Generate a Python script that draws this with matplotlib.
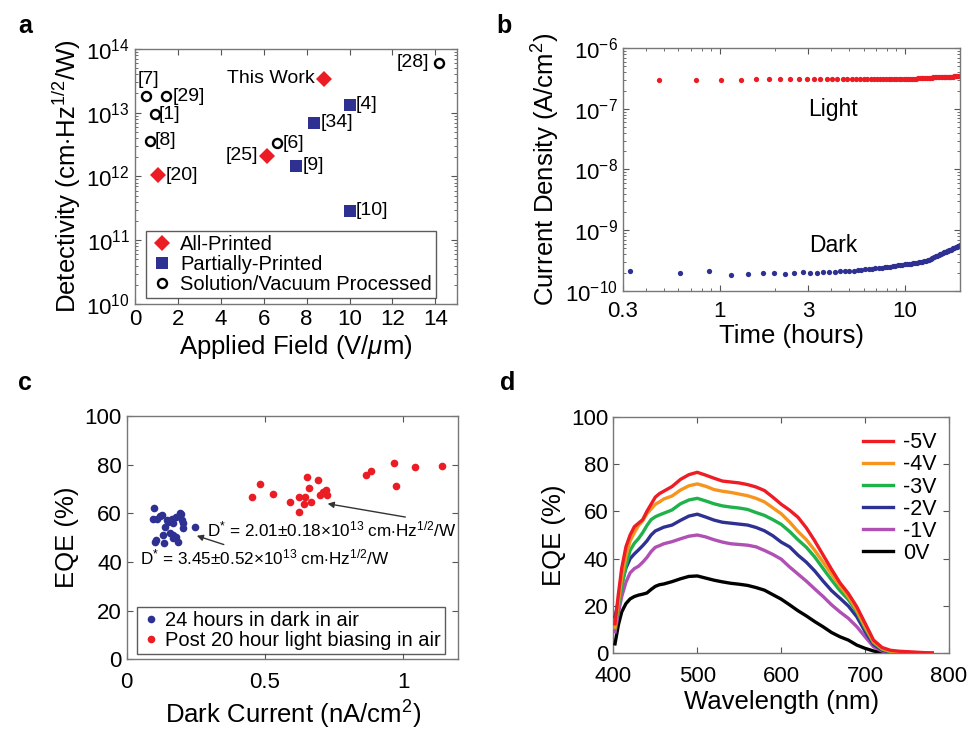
import numpy as np
import matplotlib
matplotlib.use("Agg")
import matplotlib.pyplot as plt
from matplotlib.ticker import LogLocator, NullFormatter

plt.rcParams['font.family'] = ['Liberation Sans', 'DejaVu Sans']
plt.rcParams['mathtext.fontset'] = 'custom'
plt.rcParams['mathtext.rm'] = 'Liberation Sans'
plt.rcParams['mathtext.it'] = 'Liberation Sans:italic'
plt.rcParams['axes.unicode_minus'] = False

RED = '#ec1c24'
BLUE = '#2e3192'

# ---- panel a: detectivity vs applied field ----
all_printed_x = [1.1, 6.17, 8.79]
all_printed_y = [1.05e12, 2.1e12, 3.4e13]
all_printed_lbl = ['[20]', '[25]', 'This Work']
partial_x = [10.0, 8.35, 7.52, 10.0]
partial_y = [1.33e13, 7.0e12, 1.46e12, 2.9e11]
partial_lbl = ['[4]', '[34]', '[9]', '[10]']
solution_x = [0.51, 1.44, 0.94, 0.70, 6.63, 14.15]
solution_y = [1.8e13, 1.8e13, 9.5e12, 3.6e12, 3.3e12, 6.0e13]
solution_lbl = ['[7]', '[29]', '[1]', '[8]', '[6]', '[28]']

# ---- panel b: current density vs time ----
light_t = [0.47, 0.75, 1.02, 1.30, 1.58, 1.85, 2.12, 2.40, 2.68, 2.96, 3.23, 3.51,
           3.79, 4.06, 4.34, 4.62, 4.89, 5.17, 5.45, 5.72, 6.00, 6.28, 6.55, 6.83,
           7.11, 7.38, 7.66, 7.94, 8.21, 8.49, 8.77, 9.04, 9.32, 9.60, 9.87, 10.15,
           10.43, 10.70, 10.98, 11.26, 11.53, 11.81, 12.09, 12.36, 12.64, 12.92, 13.19,
           13.47, 13.75, 14.02, 14.30, 14.58, 14.85, 15.13, 15.41, 15.68, 15.96, 16.24,
           16.51, 16.79, 17.07, 17.34, 17.62, 17.90, 18.17, 18.45, 18.73, 19.00, 19.28,
           19.56, 19.83]
light_j = [3.02, 3.00, 3.00, 3.00, 3.05, 3.05, 3.05, 3.05, 3.05, 3.05, 3.05, 3.05,
           3.06, 3.06, 3.07, 3.07, 3.08, 3.08, 3.08, 3.08, 3.09, 3.09, 3.10, 3.10,
           3.10, 3.10, 3.11, 3.11, 3.12, 3.12, 3.12, 3.12, 3.13, 3.13, 3.13, 3.14,
           3.14, 3.14, 3.15, 3.15, 3.15, 3.16, 3.16, 3.16, 3.17, 3.17, 3.17, 3.18,
           3.18, 3.20, 3.30, 3.33, 3.34, 3.35, 3.35, 3.36, 3.36, 3.37, 3.37, 3.38,
           3.38, 3.39, 3.39, 3.40, 3.40, 3.41, 3.42, 3.42, 3.43, 3.44, 3.45]
dark_t = [0.33, 0.61, 0.88, 1.16, 1.43, 1.71, 1.98, 2.26, 2.54, 2.81, 3.09, 3.36,
          3.64, 3.92, 4.19, 4.47, 4.75, 5.02, 5.30, 5.58, 5.85, 6.13, 6.41, 6.68,
          6.96, 7.24, 7.51, 7.79, 8.07, 8.34, 8.62, 8.90, 9.17, 9.45, 9.73, 10.00,
          10.28, 10.56, 10.83, 11.11, 11.39, 11.66, 11.94, 12.22, 12.49, 12.77, 13.05,
          13.32, 13.60, 13.88, 14.15, 14.43, 14.71, 14.98, 15.26, 15.54, 15.81, 16.09,
          16.37, 16.64, 16.92, 17.20, 17.47, 17.75, 18.03, 18.30, 18.58, 18.86, 19.13,
          19.41, 19.69, 19.96]
dark_j = [2.10, 1.95, 2.10, 1.85, 1.90, 1.95, 1.95, 1.88, 2.00, 2.03, 2.00, 2.00,
          2.05, 2.03, 2.08, 2.10, 2.10, 2.12, 2.15, 2.18, 2.20, 2.25, 2.30, 2.32,
          2.35, 2.38, 2.42, 2.45, 2.48, 2.50, 2.55, 2.58, 2.62, 2.65, 2.70, 2.72,
          2.75, 2.78, 2.80, 2.85, 2.88, 2.92, 2.95, 2.98, 3.02, 3.05, 3.10,
          3.18, 3.28, 3.38, 3.48, 3.60, 3.70, 3.80, 3.90, 4.00, 4.10, 4.20,
          4.30, 4.40, 4.50, 4.60, 4.70, 4.80, 4.90, 5.00, 5.10, 5.20, 5.30,
          5.40, 5.50, 5.60]

# ---- panel c: EQE vs dark current ----
dark_air_x = [0.099, 0.094, 0.126, 0.196, 0.202, 0.202, 0.247, 0.102, 0.136, 0.184,
              0.166, 0.108, 0.145, 0.163, 0.168, 0.193, 0.199, 0.138, 0.106, 0.168,
              0.180, 0.156, 0.130, 0.120, 0.178, 0.150]
dark_air_y = [62.3, 57.5, 59.3, 59.7, 56.1, 53.8, 54.5, 48.3, 47.7, 48.1,
              51.1, 57.6, 57.2, 57.6, 55.9, 60.0, 57.2, 54.2, 49.0, 49.7,
              50.4, 52.0, 51.1, 58.9, 58.4, 56.5]
light_air_x = [0.452, 0.482, 0.530, 0.590, 0.624, 0.624, 0.641, 0.653, 0.660, 0.666,
               0.644, 0.692, 0.698, 0.710, 0.723, 0.720, 0.867, 0.883, 0.967, 0.976,
               1.042, 1.142]
light_air_y = [66.8, 72.1, 67.8, 64.8, 66.8, 60.4, 63.8, 74.8, 70.5, 64.8,
               66.6, 73.7, 67.5, 68.9, 67.5, 69.6, 75.5, 77.4, 80.6, 71.0,
               79.0, 79.5]

# ---- panel d: EQE spectra ----
wavelength = [402, 406, 410, 415, 420, 425, 430, 435, 440, 445, 450, 455, 460, 470, 480,
              490, 500, 510, 520, 530, 540, 550, 560, 570, 580, 590, 600, 610, 620, 630,
              640, 650, 660, 670, 680, 690, 700, 710, 720, 730, 740, 750, 760, 770, 780]
eqe_5v = [12.5, 25, 36, 45, 50, 53.5, 55, 56.5, 60, 63, 66, 67.5, 68.5, 70.5, 73.5,
          75.5, 76.5, 75.3, 74, 72.8, 72.4, 72, 71.3, 70.3, 68.8, 66, 63, 60.5, 57.5, 53,
          47.5, 41.5, 35.5, 29.8, 25.3, 19.7, 12.7, 5.6, 2.5, 1.3, 0.9, 0.7, 0.5, 0.3, 0.1]
eqe_4v = [11, 22, 32, 41, 47.5, 51, 54, 56, 59, 61, 63, 64, 65.2, 66.5, 69,
          70.8, 71.6, 70.6, 69.2, 68.5, 68, 67.3, 66.6, 65.5, 64, 61.5, 59, 55.5, 51.5, 48,
          43.5, 38.5, 33.5, 28.5, 24, 18.3, 11.3, 4.9, 2, 0.9, 0.5, 0.3, 0.2, 0.1, 0.05]
eqe_3v = [10.5, 20, 28, 37, 43.5, 46.5, 48.5, 51, 54, 56.5, 57.7, 58.5, 59.2, 60.6, 63.2,
          64.8, 65.5, 64.4, 63.2, 62.3, 61.8, 61.4, 60.8, 59.5, 58.3, 56.5, 54.5, 51.5, 48, 44.8,
          40.7, 35.8, 31, 26.5, 22.7, 17.6, 10.6, 4.5, 1.8, 0.6, 0.3, 0.2, 0.1, 0.05, 0]
eqe_2v = [15.5, 22, 29.5, 36, 40, 42, 43.7, 45.5, 47.5, 50, 51.7, 52.5, 53.3, 54.2, 56.2,
          58, 58.8, 57.6, 56.3, 55.4, 55, 54.6, 54.2, 53.2, 51.8, 49.7, 47, 45, 41.5, 38.5,
          34.8, 30.5, 26.5, 23.3, 20, 15.5, 9.2, 3.8, 1.4, 0.5, 0.2, 0.1, 0, 0, 0]
eqe_1v = [9, 17, 24, 30, 34, 35.8, 36.8, 38.5, 40.5, 43, 44.8, 45.5, 46.3, 47.2, 48.4,
          49.5, 50, 49.2, 48, 47, 46.3, 46, 45.7, 45, 43.5, 41.8, 39.8, 36.5, 33.5, 30.5,
          27.2, 24, 20.5, 17.5, 14.8, 11.3, 7, 2.8, 1, 0.3, 0.1, 0, 0, 0, 0]
eqe_0v = [4, 12, 17.5, 21, 23, 24, 24.6, 25, 25.5, 27, 28.3, 29, 29.3, 30.3, 31.5,
          32.5, 32.7, 31.8, 30.9, 30.2, 29.6, 29.2, 28.7, 27.8, 26.7, 24.8, 22.9, 20.5, 18, 15.8,
          13.4, 11.2, 8.8, 7, 5.6, 3.5, 2.1, 1.0, 0.3, 0.1, 0, 0, 0, 0, 0]
bias_labels = ['-5V', '-4V', '-3V', '-2V', '-1V', '0V']
bias_colors = ['#ee1c24', '#f7941d', '#1fb24a', '#2e3192', '#b04fb4', 'black']

TICK = 16
LABEL = 18.5


def style_axes(ax):
    for s in ax.spines.values():
        s.set_color('#777777')
        s.set_linewidth(1.0)
    ax.tick_params(which='both', direction='in', top=True, right=True,
                   labelsize=TICK, color='#555555')
    ax.tick_params(which='major', length=4)
    ax.tick_params(which='minor', length=2)


fig = plt.figure(figsize=(9.7, 7.29), dpi=100)

# a
ax = fig.add_axes([0.139, 0.583, 0.332, 0.350])
ax.plot(all_printed_x, all_printed_y, 'D', color=RED, ms=8.5, mew=0, label='All-Printed')
ax.plot(partial_x, partial_y, 's', color=BLUE, ms=8.5, mew=0, label='Partially-Printed')
ax.plot(solution_x, solution_y, 'o', mfc='none', mec='black', ms=6.5, mew=1.7,
        label='Solution/Vacuum Processed')
ax.set_yscale('log')
ax.set_xlim(0, 15)
ax.set_ylim(1e10, 1e14)
ax.set_xticks(range(0, 15, 2))
ax.yaxis.set_major_locator(LogLocator(base=10, numticks=10))
ax.yaxis.set_minor_locator(LogLocator(base=10, subs=np.arange(2, 10), numticks=10))
ax.yaxis.set_minor_formatter(NullFormatter())
ax.set_xlabel(r'Applied Field (V/$\mu$m)', fontsize=LABEL, labelpad=2)
ax.set_ylabel(r'Detectivity (cm$\cdot$Hz$^{1/2}$/W)', fontsize=LABEL, labelpad=2)
style_axes(ax)
lbl_kw = dict(fontsize=14, va='center')
ax.text(1.75, solution_y[1], solution_lbl[1], ha='left', **lbl_kw)
ax.text(0.62, 3.3e13, solution_lbl[0], ha='center', **lbl_kw)
ax.text(1.13, solution_y[2], solution_lbl[2], ha='left', **lbl_kw)
ax.text(0.93, solution_y[3], solution_lbl[3], ha='left', **lbl_kw)
ax.text(6.87, solution_y[4], solution_lbl[4], ha='left', **lbl_kw)
ax.text(13.72, solution_y[5], solution_lbl[5], ha='right', **lbl_kw)
ax.text(1.43, all_printed_y[0], all_printed_lbl[0], ha='left', **lbl_kw)
ax.text(5.72, all_printed_y[1], all_printed_lbl[1], ha='right', **lbl_kw)
ax.text(8.37, all_printed_y[2], all_printed_lbl[2], ha='right', **lbl_kw)
for x, y, t in zip(partial_x, partial_y, partial_lbl):
    ax.text(x + 0.3, y, t, ha='left', **lbl_kw)
leg = ax.legend(loc='lower left', bbox_to_anchor=(0.035, 0.022), borderaxespad=0,
                fontsize=14.5, frameon=True, fancybox=False, handletextpad=0.3,
                borderpad=0.2, labelspacing=0.05, handlelength=1.2)
leg.get_frame().set_edgecolor('#333333')
leg.get_frame().set_linewidth(1.0)
fig.text(0.019, 0.965, 'a', fontsize=18, fontweight='bold', va='center')

# b
ax = fig.add_axes([0.642, 0.601, 0.348, 0.333])
ax.plot(light_t, np.array(light_j) * 1e-7, 'o', color=RED, ms=3.8, mew=0)
ax.plot(dark_t, np.array(dark_j) * 1e-10, 'o', color=BLUE, ms=3.8, mew=0)
ax.set_xscale('log')
ax.set_yscale('log')
ax.set_xlim(0.3, 20)
ax.set_ylim(1e-10, 1e-6)
ax.set_xticks([0.3, 1, 3, 10])
ax.set_xticklabels(['0.3', '1', '3', '10'])
ax.xaxis.set_minor_locator(LogLocator(base=10, subs=np.arange(2, 10), numticks=10))
ax.xaxis.set_minor_formatter(NullFormatter())
ax.yaxis.set_major_locator(LogLocator(base=10, numticks=10))
ax.yaxis.set_minor_locator(LogLocator(base=10, subs=np.arange(2, 10), numticks=10))
ax.yaxis.set_minor_formatter(NullFormatter())
ax.set_xlabel('Time (hours)', fontsize=LABEL, labelpad=2)
ax.set_ylabel(r'Current Density (A/cm$^2$)', fontsize=LABEL, labelpad=2)
style_axes(ax)
ax.tick_params(axis='x', pad=7)
ax.text(4.1, 9.6e-8, 'Light', fontsize=16.5, ha='center', va='center')
ax.text(4.1, 5.6e-10, 'Dark', fontsize=16.5, ha='center', va='center')
fig.text(0.512, 0.965, 'b', fontsize=18, fontweight='bold', va='center')

# c
ax = fig.add_axes([0.1306, 0.0956, 0.342, 0.334])
ax.plot(dark_air_x, dark_air_y, 'o', color=BLUE, ms=5.5, mew=0,
        label='24 hours in dark in air')
ax.plot(light_air_x, light_air_y, 'o', color=RED, ms=5.5, mew=0,
        label='Post 20 hour light biasing in air')
ax.set_xlim(0, 1.2)
ax.set_ylim(0, 100)
ax.set_xticks([0, 0.5, 1])
ax.set_xticklabels(['0', '0.5', '1'])
ax.set_yticks(range(0, 101, 20))
ax.set_xlabel(r'Dark Current (nA/cm$^2$)', fontsize=LABEL, labelpad=4)
ax.set_ylabel('EQE (%)', fontsize=LABEL)
style_axes(ax)
ax.tick_params(axis='x', pad=9)
ax.annotate(r'D$^{*}$ = 2.01$\pm$0.18$\times$10$^{13}$ cm$\cdot$Hz$^{1/2}$/W',
            xy=(0.717, 64.1), xytext=(0.29, 53.2), fontsize=12.3, va='center',
            arrowprops=dict(arrowstyle='-|>', color='#333333', lw=1,
                            shrinkA=0, shrinkB=2, mutation_scale=9,
                            relpos=(0.86, 1.0)))
ax.annotate(r'D$^{*}$ = 3.45$\pm$0.52$\times$10$^{13}$ cm$\cdot$Hz$^{1/2}$/W',
            xy=(0.244, 51.1), xytext=(0.048, 41.9), fontsize=12.3, va='center',
            arrowprops=dict(arrowstyle='-|>', color='#333333', lw=1,
                            shrinkA=0, shrinkB=2, mutation_scale=9,
                            relpos=(0.37, 1.0)))
leg = ax.legend(loc='lower left', bbox_to_anchor=(0.031, 0.022), borderaxespad=0,
                fontsize=14.5, frameon=True, fancybox=False, handletextpad=0.2,
                borderpad=0.2, labelspacing=0.05, handlelength=1.0)
leg.get_frame().set_edgecolor('#333333')
leg.get_frame().set_linewidth(1.0)
fig.text(0.019, 0.475, 'c', fontsize=18, fontweight='bold', va='center')

# d
ax = fig.add_axes([0.6323, 0.1038, 0.3461, 0.3246])
curves = [eqe_5v, eqe_4v, eqe_3v, eqe_2v, eqe_1v, eqe_0v]
for i, (vals, lab, col) in enumerate(zip(curves, bias_labels, bias_colors)):
    ax.plot(wavelength, vals, color=col, lw=2.4, label=lab, zorder=10 - i)
ax.set_xlim(400, 800)
ax.set_ylim(0, 100)
ax.set_xticks(range(400, 801, 100))
ax.set_yticks(range(0, 101, 20))
ax.set_xlabel('Wavelength (nm)', fontsize=LABEL, labelpad=2)
ax.set_ylabel('EQE (%)', fontsize=LABEL)
style_axes(ax)
ax.tick_params(axis='x', pad=9)
ax.legend(loc='upper right', bbox_to_anchor=(0.99, 0.97), frameon=False,
          fontsize=15.5, handlelength=1.4, handletextpad=0.5, labelspacing=0.05,
          borderaxespad=0)
fig.text(0.515, 0.475, 'd', fontsize=18, fontweight='bold', va='center')

fig.savefig('out.png', dpi=100)
